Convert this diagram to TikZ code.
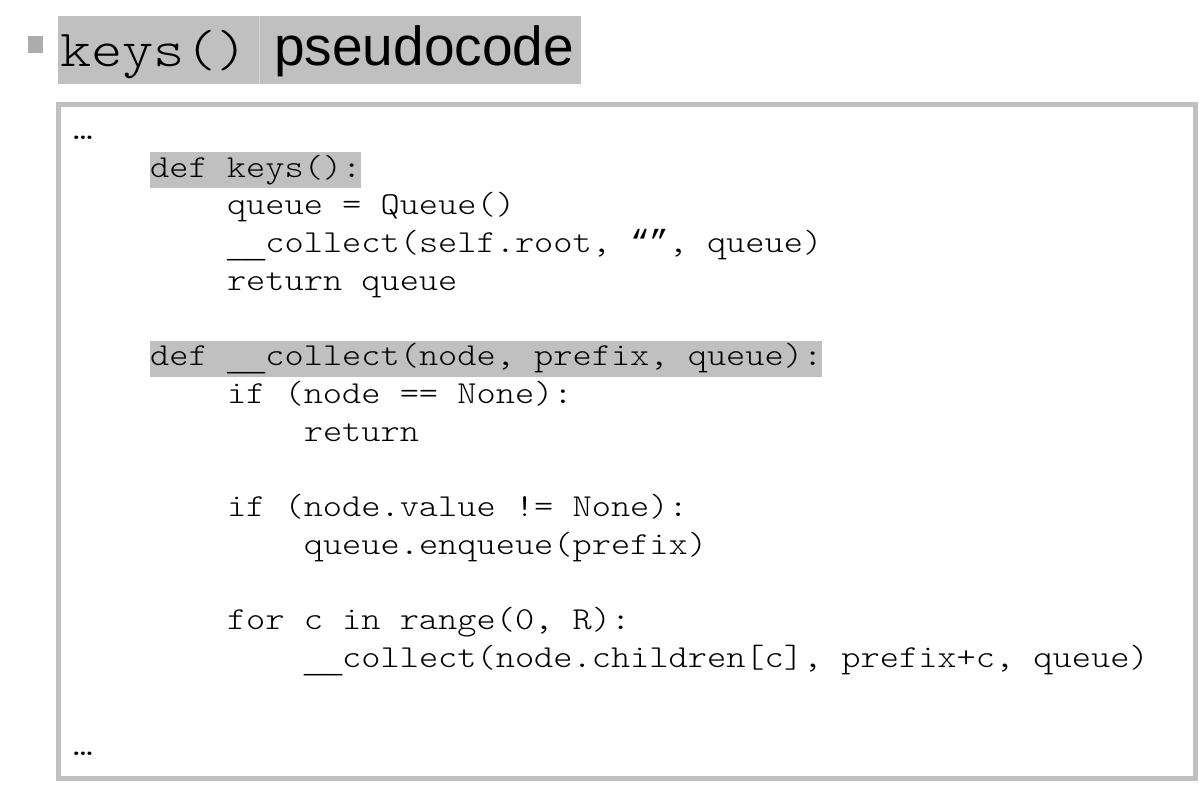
\documentclass[tikz,border=0pt]{standalone}
\usepackage{fontspec}
\setmainfont{Liberation Sans}
\newfontfamily\codefont{Latin Modern Mono Light}[FakeStretch=1.143]
\newfontfamily\quotefont{Liberation Mono}
\newcommand\uu{{\quotefont\raisebox{-5pt}{\_\_}}}
\definecolor{hlgray}{RGB}{192,192,192}
\definecolor{framegray}{RGB}{192,192,192}
\definecolor{bulletgray}{RGB}{173,171,171}
\definecolor{sepgray}{RGB}{216,216,216}
\tikzset{
  codeline/.style={anchor=base west, inner sep=0pt, font=\codefont\fontsize{32}{38}\selectfont, text=black},
  codehl/.style={codeline, fill=hlgray, text height=25pt, text depth=11pt},
  titlehl/.style={fill=hlgray, draw=none},
}
\newcommand\lnpos[2]{({73.2+#2*19.2},{139.5+#1*37.7})}
\begin{document}
\begin{tikzpicture}[x=1pt,y=-1pt]
\useasboundingbox (0,0) rectangle (1199,789);
\fill[white] (0,0) rectangle (1199,789);
% title
\fill[bulletgray] (28,36) rectangle (43,53);
\fill[hlgray] (58,16) rectangle (581,84);
\draw[sepgray, line width=1pt] (259,16) -- (259,84);
\node[anchor=base west, inner sep=0pt, font=\codefont\fontsize{52}{60}\selectfont] (tkeys) at (60,67) {keys()};
\node[anchor=base west, inner sep=0pt, font=\fontsize{55}{64}\selectfont] (tpseudo) at (274,66) {pseudocode};
% code frame
\draw[framegray, line width=5pt] (58.5,104.5) rectangle (1195.5,778.5);
% code lines
\node[codeline] (l0) at \lnpos{0}{0} {…};
\node[codehl] (l1) at \lnpos{1}{4} {def keys():};
\node[codeline] (l2) at \lnpos{2}{8} {queue = Queue()};
\node[codeline] (l3) at \lnpos{3}{8} {\uu collect(self.root, {\quotefont “”}, queue)};
\node[codeline] (l4) at \lnpos{4}{8} {return queue};
\node[codehl] (l6) at \lnpos{6}{4} {def \uu collect(node, prefix, queue):};
\node[codeline] (l7) at \lnpos{7}{8} {if (node == None):};
\node[codeline] (l8) at \lnpos{8}{12} {return};
\node[codeline] (l10) at \lnpos{10}{8} {if (node.value != None):};
\node[codeline] (l11) at \lnpos{11}{12} {queue.enqueue(prefix)};
\node[codeline] (l13) at \lnpos{13}{8} {for c in range(0, R):};
\node[codeline] (l14) at \lnpos{14}{12} {\uu collect(node.children[c], prefix+c, queue)};
\node[codeline] (l16) at (73.2,755) {…};
\end{tikzpicture}
\end{document}
